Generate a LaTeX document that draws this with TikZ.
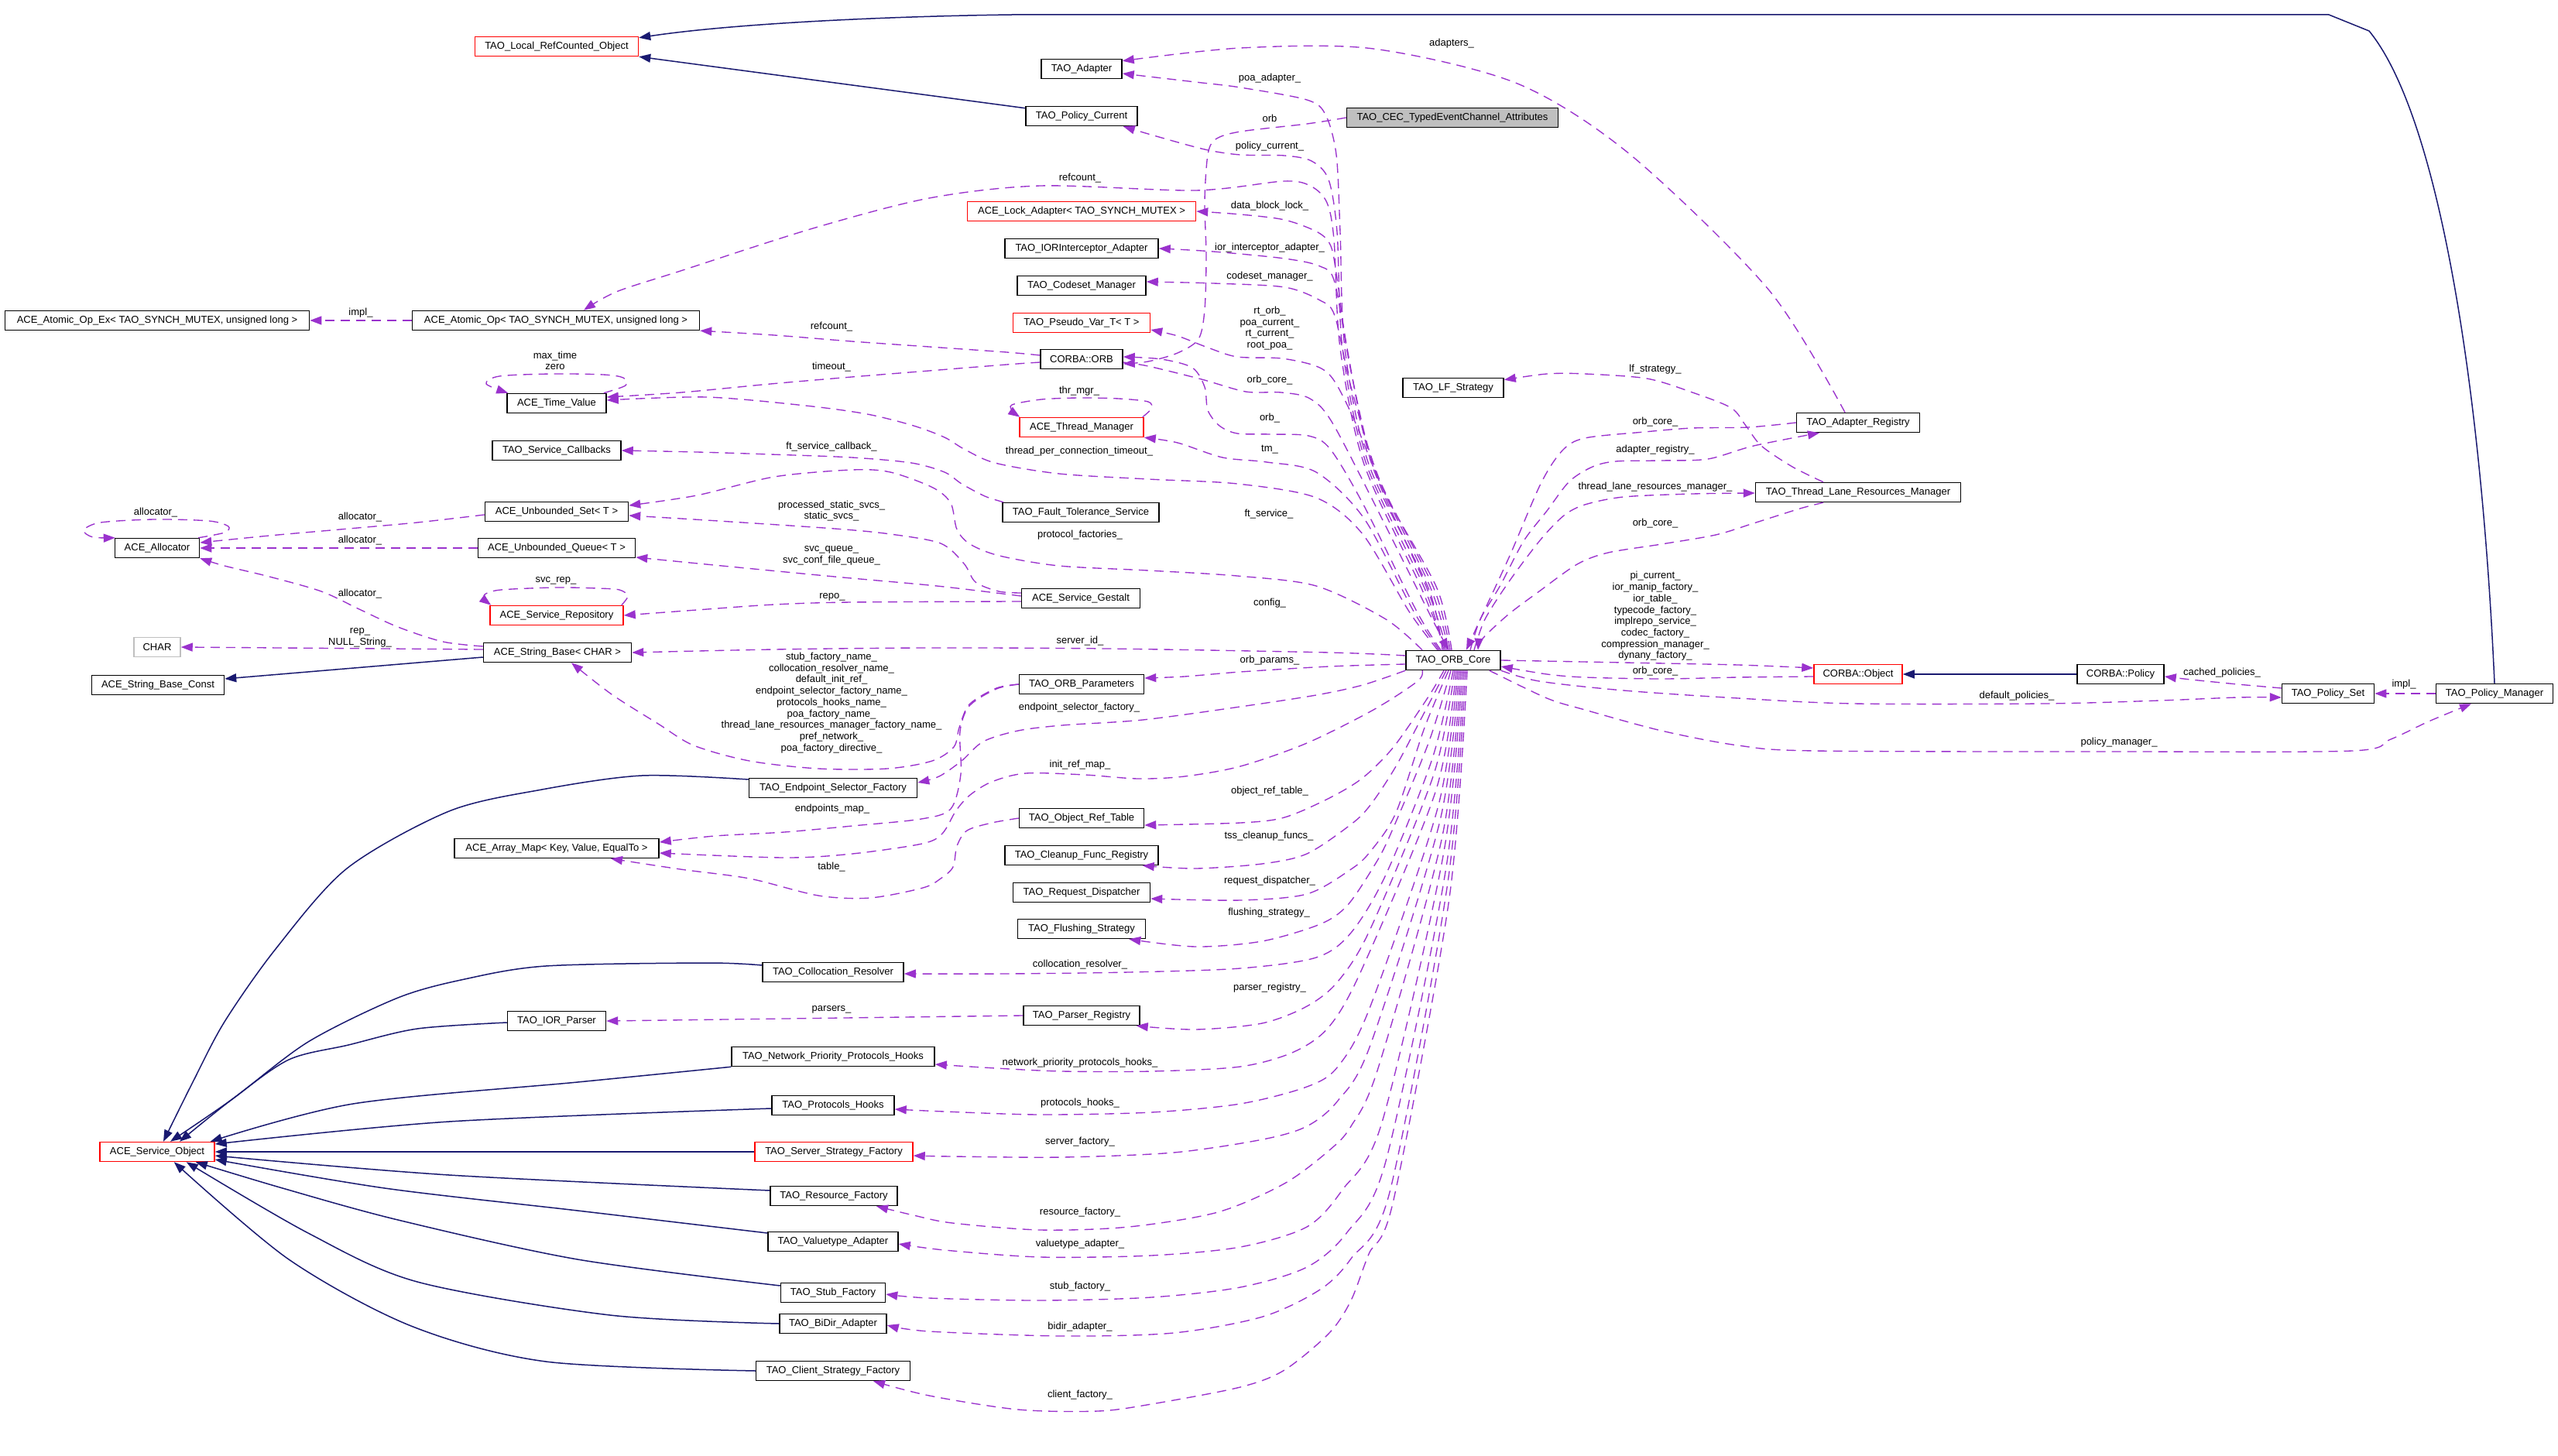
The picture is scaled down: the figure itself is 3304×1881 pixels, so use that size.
\documentclass[tikz,border=0pt]{standalone}
\usepackage{fontspec}
\setmainfont{Liberation Sans}
\usetikzlibrary{arrows.meta}
\definecolor{usecol}{HTML}{9A32CD}
\definecolor{inhcol}{HTML}{191970}
\definecolor{grayfill}{HTML}{BFBFBF}
\begin{document}
\begin{tikzpicture}[x=1pt,y=-1pt,
  every node/.style={font=\fontsize{13}{14.7}\selectfont},
  cls/.style={draw=black,line width=1.5pt,minimum height=25pt,inner sep=0pt,fill=white},
  redbox/.style={draw=red},
  lab/.style={inner sep=0pt,align=center},
  coll/.style={draw=usecol,line width=1.35pt,dash pattern=on 12pt off 8pt,-{Triangle[length=15pt,width=11pt]}},
  inher/.style={draw=inhcol,line width=1.5pt,-{Triangle[length=15pt,width=11pt]}}]
\fill[white] (0,0) rectangle (3304,1881);
\useasboundingbox (0,0) rectangle (3304,1881);

% ---------------- classes ----------------
\node[cls,redbox,minimum width=211pt] (lro) at (719,60) {TAO\_Local\_RefCounted\_Object};
\node[cls,minimum width=104pt] (adapter) at (1397,89) {TAO\_Adapter};
\node[cls,minimum width=144pt] (polcur) at (1397,150) {TAO\_Policy\_Current};
\node[cls,fill=grayfill,minimum width=273pt] (cec) at (1876,152) {TAO\_CEC\_TypedEventChannel\_Attributes};
\node[cls,redbox,minimum width=295pt] (lock) at (1397,273) {ACE\_Lock\_Adapter< TAO\_SYNCH\_MUTEX >};
\node[cls,minimum width=198pt] (iorint) at (1397,321) {TAO\_IORInterceptor\_Adapter};
\node[cls,minimum width=166pt] (codeset) at (1397,369) {TAO\_Codeset\_Manager};
\node[cls,redbox,minimum width=177pt] (pseudo) at (1397,417) {TAO\_Pseudo\_Var\_T< T >};
\node[cls,minimum width=106pt] (orb) at (1397,464) {CORBA::ORB};
\node[cls,redbox,minimum width=160pt] (thrmgr) at (1397,552) {ACE\_Thread\_Manager};
\node[cls,minimum width=202pt] (ftsvc) at (1396,662) {TAO\_Fault\_Tolerance\_Service};
\node[cls,minimum width=153pt] (gestalt) at (1396,773) {ACE\_Service\_Gestalt};
\node[cls,minimum width=161pt] (orbparams) at (1397,884) {TAO\_ORB\_Parameters};
\node[cls,minimum width=161pt] (objref) at (1397,1057) {TAO\_Object\_Ref\_Table};
\node[cls,minimum width=198pt] (cleanup) at (1397,1105) {TAO\_Cleanup\_Func\_Registry};
\node[cls,minimum width=177pt] (reqdisp) at (1397,1153) {TAO\_Request\_Dispatcher};
\node[cls,minimum width=165pt] (flush) at (1397,1200) {TAO\_Flushing\_Strategy};
\node[cls,minimum width=150pt] (parserreg) at (1397,1312) {TAO\_Parser\_Registry};
\node[cls,minimum width=122pt] (orbcore) at (1877,853) {TAO\_ORB\_Core};
\node[cls,minimum width=130pt] (lf) at (1877,501) {TAO\_LF\_Strategy};
\node[cls,minimum width=159pt] (adreg) at (2400,546) {TAO\_Adapter\_Registry};
\node[cls,minimum width=265pt] (tlrm) at (2400,636) {TAO\_Thread\_Lane\_Resources\_Manager};
\node[cls,redbox,minimum width=114pt] (cobj) at (2400,871) {CORBA::Object};
\node[cls,minimum width=112pt] (cpol) at (2739,871) {CORBA::Policy};
\node[cls,minimum width=119pt] (polset) at (3007,896) {TAO\_Policy\_Set};
\node[cls,minimum width=151pt] (polmgr) at (3222,896) {TAO\_Policy\_Manager};
\node[cls,minimum width=393pt] (atomicex) at (203,414) {ACE\_Atomic\_Op\_Ex< TAO\_SYNCH\_MUTEX, unsigned long >};
\node[cls,minimum width=371pt] (atomic) at (718,414) {ACE\_Atomic\_Op< TAO\_SYNCH\_MUTEX, unsigned long >};
\node[cls,minimum width=128pt] (timeval) at (719,521) {ACE\_Time\_Value};
\node[cls,minimum width=166pt] (svccb) at (719,582) {TAO\_Service\_Callbacks};
\node[cls,minimum width=185pt] (uset) at (719,661) {ACE\_Unbounded\_Set< T >};
\node[cls,minimum width=109pt] (alloc) at (203,708) {ACE\_Allocator};
\node[cls,minimum width=203pt] (uqueue) at (719,708) {ACE\_Unbounded\_Queue< T >};
\node[cls,redbox,minimum width=172pt] (svcrep) at (719,795) {ACE\_Service\_Repository};
\node[cls,draw=grayfill,minimum width=60pt] (chr) at (203,836) {CHAR};
\node[cls,minimum width=191pt] (strbase) at (720,843) {ACE\_String\_Base< CHAR >};
\node[cls,minimum width=171pt] (strconst) at (204,885) {ACE\_String\_Base\_Const};
\node[cls,minimum width=217pt] (esf) at (1076,1018) {TAO\_Endpoint\_Selector\_Factory};
\node[cls,minimum width=264pt] (amap) at (719,1096) {ACE\_Array\_Map< Key, Value, EqualTo >};
\node[cls,minimum width=182pt] (colres) at (1076,1256) {TAO\_Collocation\_Resolver};
\node[cls,minimum width=127pt] (iorparser) at (719,1319) {TAO\_IOR\_Parser};
\node[cls,minimum width=262pt] (nph) at (1076,1365) {TAO\_Network\_Priority\_Protocols\_Hooks};
\node[cls,minimum width=158pt] (ph) at (1076,1428) {TAO\_Protocols\_Hooks};
\node[cls,redbox,minimum width=148pt] (aso) at (203,1488) {ACE\_Service\_Object};
\node[cls,redbox,minimum width=204pt] (ssf) at (1077,1488) {TAO\_Server\_Strategy\_Factory};
\node[cls,minimum width=164pt] (rf) at (1077,1545) {TAO\_Resource\_Factory};
\node[cls,minimum width=168pt] (vta) at (1076,1604) {TAO\_Valuetype\_Adapter};
\node[cls,minimum width=135pt] (stubf) at (1076,1670) {TAO\_Stub\_Factory};
\node[cls,minimum width=138pt] (bidir) at (1076,1710) {TAO\_BiDir\_Adapter};
\node[cls,minimum width=199pt] (csf) at (1076,1771) {TAO\_Client\_Strategy\_Factory};

% ---------------- inheritance ----------------
\draw[inher] ([yshift=-3pt]polcur.north west) -- (lro.south east);
\draw[inher] (polmgr.north) .. controls (3205,500) and (3150,150) .. (3060,40) -- (3008,19) -- (1307,19) .. controls (1150,21) and (950,30) .. ([yshift=-2pt]lro.north east);
\draw[inher] (cpol.west) -- (cobj.east);
\draw[inher] ([yshift=-6pt]strbase.west) -- ([yshift=8pt]strconst.east);
\draw[inher] plot[smooth] coordinates {([yshift=11pt]esf.west) (829,1002) (700,1020) (580,1048) (448,1122) (356,1226) (290,1320) (249,1398) ([xshift=8pt]aso.north)};
\draw[inher] plot[smooth] coordinates {([yshift=9pt]colres.west) (912,1244) (705,1248) (600,1265) (514,1289) (398,1346) (300,1420) ([xshift=17pt]aso.north)};
\draw[inher] plot[smooth] coordinates {([yshift=-2pt]iorparser.west) (539,1329) (450,1350) (373,1369) (300,1420) ([xshift=29pt]aso.north)};
\draw[inher] plot[smooth] coordinates {(nph.south west) (746,1398) (456,1426) ([xshift=-6pt]aso.north east)};
\draw[inher] plot[smooth] coordinates {([yshift=-4pt]ph.west) (580,1449) ([yshift=10pt]aso.east)};
\draw[inher] (ssf.west) -- (aso.east);
\draw[inher] plot[smooth] coordinates {([yshift=7pt]rf.west) (580,1518) ([yshift=-5pt]aso.east)};
\draw[inher] plot[smooth] coordinates {([yshift=11pt]vta.west) (746,1564) (497,1535) ([yshift=-10pt]aso.east)};
\draw[inher] plot[smooth] coordinates {([yshift=9pt]stubf.west) (746,1627) (514,1576) (365,1535) ([xshift=-25pt]aso.south east)};
\draw[inher] plot[smooth] coordinates {(bidir.west) (788,1699) (539,1656) (398,1593) ([xshift=-37pt]aso.south east)};
\draw[inher] plot[smooth] coordinates {(csf.west) (705,1759) (531,1713) (373,1627) ([xshift=-53pt]aso.south east)};

% ---------------- usage: upper fan ----------------
\draw[coll] plot[smooth] coordinates {([xshift=-17pt]adreg.north) (2285,375) (2106,200) (1960,108) (1774,63) (1602,62) ([yshift=-3pt]adapter.north east)};
\draw[coll] plot[smooth] coordinates {([xshift=-14pt]orbcore.north) (1845,760) (1768,600) (1737,450) (1731,300) (1726,200) (1712,148) (1688,129) (1602,113) (1544,106) ([yshift=-6pt]adapter.east)};
\draw[coll] plot[smooth] coordinates {([xshift=-12pt]orbcore.north) (1840,760) (1765,600) (1734,450) (1727,300) (1716,232) (1694,208) (1659,201) (1602,200) (1556,193) (1490,175) ([xshift=-19pt]polcur.south east)};
\draw[coll] plot[smooth] coordinates {([xshift=-10pt]orbcore.north) (1836,760) (1762,600) (1731,450) (1723,310) (1714,262) (1694,241) (1659,234) (1544,246) (1344,240) (1200,256) (1050,295) (879,350) (796,377) ([xshift=36pt]atomic.north)};
\draw[coll] plot[smooth] coordinates {([xshift=-8pt]orbcore.north) (1843,760) (1772,600) (1740,450) (1727,360) (1719,318) (1702,300) (1659,284) (1602,277) (lock.east)};
\draw[coll] plot[smooth] coordinates {([xshift=-6pt]orbcore.north) (1848,760) (1777,610) (1745,480) (1724,365) (1705,344) (1659,334) (1567,325) (iorint.east)};
\draw[coll] plot[smooth] coordinates {([xshift=-4pt]orbcore.north) (1852,760) (1782,620) (1745,500) (1724,408) (1705,388) (1659,371) (1567,366) ([yshift=5pt]codeset.east)};
\draw[coll] plot[smooth] coordinates {([xshift=-2pt]orbcore.north) (1856,760) (1790,640) (1748,540) (1722,490) (1700,473) (1655,463) (1598,461) (1560,449) (1521,434) ([yshift=-9pt]pseudo.east)};
\draw[coll] plot[smooth] coordinates {([yshift=-4pt]orb.east) (1483,473) (1552,490) (1609,506) (1655,507) (1692,515) (1722,548) (1790,680) (1850,800) ([xshift=-6pt]orbcore.north)};
\draw[coll] plot[smooth] coordinates {([xshift=-16pt]orbcore.north) (1830,790) (1760,650) (1718,580) (1690,563) (1640,561) (1598,560) (1575,550) (1560,530) (1556,500) (1540,475) (1500,464) ([yshift=3pt]orb.east)};
\draw[coll] plot[smooth] coordinates {(cec.west) (1688,160) (1602,170) (1570,180) (1560,200) (1556,260) (1558,330) (1556,400) (1548,438) (1521,456) (1483,467) ([yshift=-6pt]orb.east)};
\draw[coll] plot[smooth] coordinates {([xshift=-18pt]orbcore.north) (1826,790) (1762,670) (1700,610) (1636,597) (1579,591) (1521,572) (thrmgr.south east)};
\draw[coll] plot[smooth] coordinates {([xshift=-20pt]orbcore.north) (1820,790) (1760,690) (1700,643) (1598,625) (1483,619) (1368,612) (1285,598) (1245,580) (1220,565) (1180,550) (1120,535) (1040,524) (912,513) ([yshift=4pt]timeval.east)};
\draw[coll] plot[smooth] coordinates {([yshift=-4pt]orb.west) (1300,471) (1200,479) (1100,487) (995,496) (880,507) ([yshift=8pt]timeval.east)};
\draw[coll] plot[smooth] coordinates {([yshift=5pt]orb.west) (1300,455) (1200,448) (1100,441) (1000,433) (atomic.south east)};
\draw[coll] (atomic.west) -- (atomicex.east);
\draw[coll] plot[smooth] coordinates {([xshift=-4pt]timeval.north east) (808,498) (805,488) (779,484) (713,483) (645,486) (628,496) ([xshift=2pt]timeval.north west)};
\draw[coll] plot[smooth] coordinates {([xshift=-2pt]thrmgr.north east) (1487,528) (1483,519) (1445,515) (1394,514) (1345,516) (1307,523) (1309,532) ([xshift=1pt]thrmgr.north west)};
\draw[coll] plot[smooth] coordinates {([xshift=-2pt]alloc.north east) (290,688) (295,680) (270,673) (200,671) (130,675) (108,685) (120,694) ([xshift=1pt]alloc.north west)};
\draw[coll] plot[smooth] coordinates {([xshift=-3pt]svcrep.north east) (811,770) (800,762) (771,760) (718,759) (647,762) (626,768) (628,776) ([xshift=2pt]svcrep.north west)};
\draw[coll] plot[smooth] coordinates {([yshift=-4pt]uset.west) (539,675) (439,684) (348,692) ([yshift=7pt]alloc.east)};
\draw[coll] (uqueue.west) -- (alloc.east);
\draw[coll] plot[smooth] coordinates {([yshift=8pt]strbase.west) (572,829) (514,810) (464,787) (415,764) (348,745) (290,731) (alloc.south east)};
\draw[coll] ([yshift=4pt]strbase.west) -- (chr.east);
\draw[coll] plot[smooth] coordinates {([xshift=2pt]ftsvc.north west) (1272,641) (1242,625) (1220,610) (1177,598) (1100,591) (995,587) (900,584) (svccb.east)};
\draw[coll] plot[smooth] coordinates {([xshift=-40pt]orbcore.north) (1790,800) (1700,757) (1598,744) (1483,737) (1368,731) (1291,718) (1253,703) (1236,684) (1228,650) (1205,630) (1150,610) (1100,607) (1000,616) (900,640) ([yshift=8pt]uset.east)};
\draw[coll] plot[smooth] coordinates {([yshift=7pt]gestalt.west) (1290,764) (1260,752) (1245,728) (1215,702) (1150,690) (1078,683) (912,672) ([yshift=-5pt]uset.east)};
\draw[coll] plot[smooth] coordinates {([yshift=3pt]gestalt.west) (1210,757) (1078,745) (912,729) ([yshift=-12pt]uqueue.east)};
\draw[coll] plot[smooth] coordinates {([yshift=-4pt]gestalt.west) (1100,778) (1000,781) (900,788) (svcrep.east)};
\draw[coll] plot[smooth] coordinates {([yshift=6pt]orbcore.west) (1717,843) (1430,838) (1200,837) (1000,839) (strbase.east)};
\draw[coll] plot[smooth] coordinates {([yshift=-5pt]orbcore.west) (1717,861) (1602,868) (1530,874) ([yshift=8pt]orbparams.east)};
\draw[coll] plot[smooth] coordinates {(orbparams.west) (1287,889) (1252,910) (1239,940) (1232,965) (1204,983) (1146,993) (1057,993) (968,983) (896,963) (850,935) (790,897) ([xshift=18pt]strbase.south)};
\draw[coll] plot[smooth] coordinates {(orbparams.west) (1287,890) (1252,912) (1240,945) (1241,1000) (1228,1045) (1190,1058) (1101,1067) (1013,1075) (923,1080) ([yshift=8pt]amap.east)};
\draw[coll] plot[smooth] coordinates {([xshift=-40pt]orbcore.south) (1831,880) (1774,917) (1688,960) (1602,990) (1530,1003) (1470,1006) (1401,1001) (1325,999) (1281,1010) (1253,1027) (1235,1047) (1217,1077) (1191,1090) (1101,1103) (1013,1108) ([yshift=-6pt]amap.east)};
\draw[coll] plot[smooth] coordinates {(objref.west) (1281,1063) (1249,1073) (1236,1093) (1231,1120) (1215,1135) (1192,1147) (1124,1160) (1057,1157) (968,1135) (879,1123) ([xshift=70pt]amap.south)};
\draw[coll] plot[smooth] coordinates {(orbcore.south west) (1760,885) (1700,898) (1602,913) (1476,930) (1372,937) (1315,944) (1270,958) (1242,983) (1213,1003) ([yshift=7pt]esf.east)};

% ---------------- usage: lower fan ----------------
\draw[coll] plot[smooth] coordinates {([xshift=-12pt]orbcore.south) (1845,900) (1800,965) (1760,1005) (1717,1031) (1659,1056) (1602,1063) ([yshift=-9pt]objref.east)};
\draw[coll] plot[smooth] coordinates {([xshift=-9pt]orbcore.south) (1840,920) (1803,990) (1770,1040) (1745,1065) (1688,1103) (1630,1116) (1544,1122) ([xshift=-21pt]cleanup.south east)};
\draw[coll] plot[smooth] coordinates {([xshift=-6pt]orbcore.south) (1840,940) (1803,1050) (1770,1100) (1745,1123) (1688,1155) (1602,1163) ([yshift=-8pt]reqdisp.east)};
\draw[coll] plot[smooth] coordinates {([xshift=-3pt]orbcore.south) (1845,960) (1795,1080) (1774,1120) (1740,1170) (1705,1194) (1630,1216) (1544,1223) ([xshift=-22pt]flush.south east)};
\draw[coll] plot[smooth] coordinates {(orbcore.south) (1850,980) (1790,1130) (1745,1205) (1700,1237) (1602,1251) (1458,1256) (1300,1258) ([yshift=-2pt]colres.east)};
\draw[coll] plot[smooth] coordinates {([xshift=2pt]orbcore.south) (1852,1000) (1770,1200) (1728,1268) (1688,1300) (1630,1322) (1544,1330) ([xshift=-5pt]parserreg.south east)};
\draw[coll] (parserreg.west) -- (iorparser.east);
\draw[coll] plot[smooth] coordinates {([xshift=4pt]orbcore.south) (1855,1020) (1760,1250) (1717,1326) (1671,1359) (1602,1378) (1487,1384) (1372,1384) (1286,1380) ([yshift=-10pt]nph.east)};
\draw[coll] plot[smooth] coordinates {([xshift=6pt]orbcore.south) (1858,1040) (1770,1300) (1728,1378) (1688,1404) (1602,1426) (1487,1437) (1344,1440) (1220,1436) ([yshift=-5pt]ph.east)};
\draw[coll] plot[smooth] coordinates {([xshift=8pt]orbcore.south) (1860,1060) (1770,1350) (1728,1422) (1688,1455) (1631,1472) (1516,1489) (1372,1495) (1230,1494) ([yshift=-5pt]ssf.east)};
\draw[coll] plot[smooth] coordinates {([xshift=10pt]orbcore.south) (1863,1080) (1780,1380) (1745,1455) (1717,1486) (1659,1529) (1573,1566) (1458,1585) (1344,1589) (1230,1580) (1180,1570) ([xshift=55pt]rf.south)};
\draw[coll] plot[smooth] coordinates {([xshift=12pt]orbcore.south) (1865,1100) (1785,1450) (1734,1537) (1688,1585) (1602,1611) (1487,1622) (1344,1624) (1220,1615) ([yshift=-3pt]vta.east)};
\draw[coll] plot[smooth] coordinates {([xshift=14pt]orbcore.south) (1868,1120) (1790,1500) (1740,1592) (1688,1637) (1602,1663) (1487,1676) (1344,1680) (1200,1677) ([yshift=-2pt]stubf.east)};
\draw[coll] plot[smooth] coordinates {([xshift=16pt]orbcore.south) (1870,1140) (1795,1540) (1745,1626) (1705,1666) (1631,1701) (1516,1722) (1372,1726) (1200,1720) ([yshift=-2pt]bidir.east)};
\draw[coll] plot[smooth] coordinates {([xshift=18pt]orbcore.south) (1872,1160) (1800,1550) (1768,1620) (1745,1680) (1717,1722) (1659,1770) (1602,1792) (1487,1814) (1418,1823) (1315,1821) (1200,1803) ([xshift=52pt]csf.south)};

% ---------------- usage: right side ----------------
\draw[coll] plot[smooth] coordinates {([xshift=22pt]orbcore.north) (1912,800) (1938,756) (1968,699) (1998,660) (2027,622) (2057,603) (2087,596) (2146,595) (2206,593) (2265,576) ([xshift=-50pt]adreg.south)};
\draw[coll] plot[smooth] coordinates {(adreg.west) (2258,552) (2186,553) (2124,558) (2047,566) (2018,582) (1990,625) (1950,718) (1912,800) ([xshift=17pt]orbcore.north)};
\draw[coll] plot[smooth] coordinates {([xshift=27pt]orbcore.north) (1918,800) (1950,750) (1990,697) (2020,666) (2047,652) (2097,642) (2186,638) ([yshift=-1pt]tlrm.west)};
\draw[coll] plot[smooth] coordinates {([xshift=-45pt]tlrm.south) (2325,657) (2265,676) (2216,691) (2146,703) (2077,714) (2037,729) (1988,764) (1948,794) (1915,825) ([xshift=32pt]orbcore.north)};
\draw[coll] plot[smooth] coordinates {([xshift=-45pt]tlrm.north) (2315,603) (2275,576) (2255,550) (2236,527) (2186,507) (2127,489) (2047,483) (1998,483) ([yshift=-3pt]lf.north east)};
\draw[coll] plot[smooth] coordinates {(orbcore.east) (2097,856) (2245,859) ([yshift=8pt]cobj.west)};
\draw[coll] plot[smooth] coordinates {([yshift=-3pt]cobj.west) (2245,875) (2146,877) (2047,875) (1998,871) ([yshift=-8pt]orbcore.east)};
\draw[coll] plot[smooth] coordinates {([yshift=7pt]polset.west) (2890,884) (2830,878) ([yshift=-3pt]cpol.east)};
\draw[coll] (polmgr.west) -- (polset.east);
\draw[coll] plot[smooth] coordinates {(orbcore.south east) (1988,880) (2097,892) (2245,902) (2394,909) (2642,909) (2790,905) (2890,901) ([yshift=-5pt]polset.west)};
\draw[coll] plot[smooth] coordinates {([xshift=-15pt]orbcore.south east) (1998,902) (2047,917) (2146,944) (2245,963) (2344,970) (2741,971) (3038,970) (3088,955) (3137,932) ([xshift=-30pt]polmgr.south)};

% ---------------- labels ----------------
\node[lab] (l01) at (1875,56) {adapters\_};
\node[lab] (l02) at (1640,101) {poa\_adapter\_};
\node[lab] (l03) at (1640,153) {orb};
\node[lab] (l04) at (1640,189) {policy\_current\_};
\node[lab] (l05) at (1395,230) {refcount\_};
\node[lab] (l06) at (1640,266) {data\_block\_lock\_};
\node[lab] (l07) at (1640,320) {ior\_interceptor\_adapter\_};
\node[lab] (l08) at (1640,357) {codeset\_manager\_};
\node[lab] (l09) at (1640,424) {rt\_orb\_\\poa\_current\_\\rt\_current\_\\root\_poa\_};
\node[lab] (l10) at (1640,491) {orb\_core\_};
\node[lab] (l11) at (1394,505) {thr\_mgr\_};
\node[lab] (l12) at (1640,540) {orb\_};
\node[lab] (l13) at (1394,583) {thread\_per\_connection\_timeout\_};
\node[lab] (l14) at (1640,581) {tm\_};
\node[lab] (l15) at (1639,664) {ft\_service\_};
\node[lab] (l16) at (1395,691) {protocol\_factories\_};
\node[lab] (l17) at (1640,779) {config\_};
\node[lab] (l18) at (1395,828) {server\_id\_};
\node[lab] (l19) at (1640,853) {orb\_params\_};
\node[lab] (l20) at (1394,914) {endpoint\_selector\_factory\_};
\node[lab] (l21) at (1395,988) {init\_ref\_map\_};
\node[lab] (l22) at (1640,1022) {object\_ref\_table\_};
\node[lab] (l23) at (1639,1080) {tss\_cleanup\_funcs\_};
\node[lab] (l24) at (1640,1138) {request\_dispatcher\_};
\node[lab] (l25) at (1639,1179) {flushing\_strategy\_};
\node[lab] (l26) at (1395,1246) {collocation\_resolver\_};
\node[lab] (l27) at (1640,1276) {parser\_registry\_};
\node[lab] (l28) at (1395,1373) {network\_priority\_protocols\_hooks\_};
\node[lab] (l29) at (1395,1425) {protocols\_hooks\_};
\node[lab] (l30) at (1395,1475) {server\_factory\_};
\node[lab] (l31) at (1395,1566) {resource\_factory\_};
\node[lab] (l32) at (1395,1607) {valuetype\_adapter\_};
\node[lab] (l33) at (1395,1662) {stub\_factory\_};
\node[lab] (l34) at (1395,1714) {bidir\_adapter\_};
\node[lab] (l35) at (1395,1802) {client\_factory\_};
\node[lab] (l36) at (466,404) {impl\_};
\node[lab] (l37) at (1074,422) {refcount\_};
\node[lab] (l38) at (717,466) {max\_time\\zero};
\node[lab] (l39) at (1074,474) {timeout\_};
\node[lab] (l40) at (1074,577) {ft\_service\_callback\_};
\node[lab] (l41) at (1074,660) {processed\_static\_svcs\_\\static\_svcs\_};
\node[lab] (l42) at (201,662) {allocator\_};
\node[lab] (l43) at (465,668) {allocator\_};
\node[lab] (l44) at (465,698) {allocator\_};
\node[lab] (l45) at (1074,718) {svc\_queue\_\\svc\_conf\_file\_queue\_};
\node[lab] (l46) at (718,750) {svc\_rep\_};
\node[lab] (l47) at (465,767) {allocator\_};
\node[lab] (l48) at (1075,771) {repo\_};
\node[lab] (l49) at (465,824) {rep\_\\NULL\_String\_};
\node[lab] (l50) at (1074,908) {stub\_factory\_name\_\\collocation\_resolver\_name\_\\default\_init\_ref\_\\endpoint\_selector\_factory\_name\_\\protocols\_hooks\_name\_\\poa\_factory\_name\_\\thread\_lane\_resources\_manager\_factory\_name\_\\pref\_network\_\\poa\_factory\_directive\_};
\node[lab] (l51) at (1075,1045) {endpoints\_map\_};
\node[lab] (l52) at (1074,1120) {table\_};
\node[lab] (l53) at (1074,1304) {parsers\_};
\node[lab] (l54) at (2138,477) {lf\_strategy\_};
\node[lab] (l55) at (2138,545) {orb\_core\_};
\node[lab] (l56) at (2138,581) {adapter\_registry\_};
\node[lab] (l57) at (2138,629) {thread\_lane\_resources\_manager\_};
\node[lab] (l58) at (2138,676) {orb\_core\_};
\node[lab] (l59) at (2138,796) {pi\_current\_\\ior\_manip\_factory\_\\ior\_table\_\\typecode\_factory\_\\implrepo\_service\_\\codec\_factory\_\\compression\_manager\_\\dynany\_factory\_};
\node[lab] (l60) at (2138,867) {orb\_core\_};
\node[lab] (l61) at (2870,869) {cached\_policies\_};
\node[lab] (l62) at (3105,884) {impl\_};
\node[lab] (l63) at (2605,899) {default\_policies\_};
\node[lab] (l64) at (2737,959) {policy\_manager\_};
\end{tikzpicture}
\end{document}
